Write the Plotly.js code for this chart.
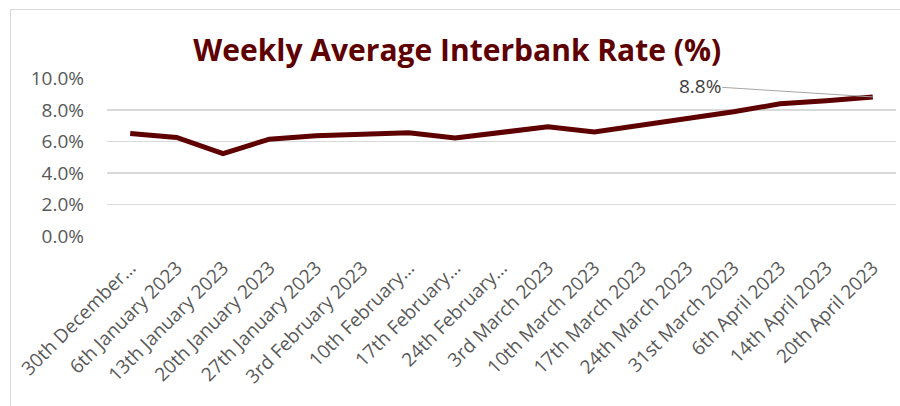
<!DOCTYPE html>
<html>
<head>
<meta charset="utf-8">
<script src="https://cdn.plot.ly/plotly-3.0.1.min.js"></script>
<style>
html,body{margin:0;padding:0;width:900px;height:406px;overflow:hidden;background:#fff;}
#chart{position:absolute;left:0;top:0;width:900px;height:406px;}
#frame{position:absolute;left:10px;top:9px;width:900px;height:500px;border:1px solid #d9d9d9;box-sizing:border-box;pointer-events:none;}
</style>
</head>
<body>
<div id="chart"></div>
<div id="frame"></div>
<script>
const categories = [
  "30th December…", "6th January 2023", "13th January 2023", "20th January 2023",
  "27th January 2023", "3rd February 2023", "10th February…", "17th February…",
  "24th February…", "3rd March 2023", "10th March 2023", "17th March 2023",
  "24th March 2023", "31st March 2023", "6th April 2023", "14th April 2023",
  "20th April 2023"
];
const rates = [6.50, 6.25, 5.23, 6.14, 6.36, 6.45, 6.54, 6.22, 6.58, 6.92, 6.60, 7.00, 7.45, 7.88, 8.38, 8.58, 8.82];
const yTicks = [0, 2, 4, 6, 8, 10];
const yTickText = ["0.0%", "2.0%", "4.0%", "6.0%", "8.0%", "10.0%"];
const lastLabel = "8.8%";

const maroon = "#5e0000";
const trace = {
  x: categories,
  y: rates,
  type: "scatter",
  mode: "lines",
  line: {color: maroon, width: 5},
  hoverinfo: "skip"
};

const layout = {
  width: 900, height: 406,
  margin: {l: 107, r: 4, t: 78, b: 170, pad: 0},
  paper_bgcolor: "rgba(0,0,0,0)",
  plot_bgcolor: "rgba(0,0,0,0)",
  showlegend: false,
  title: {
    text: "Weekly Average Interbank Rate (%)",
    font: {family: "Open Sans", size: 30, color: maroon, weight: 700},
    x: 0.508, xanchor: "center", y: 0.875, yanchor: "middle"
  },
  xaxis: {
    type: "category",
    range: [-0.5, categories.length - 0.5],
    tickangle: -45,
    tickfont: {family: "Open Sans", size: 19, color: "#595959"},
    showgrid: false, zeroline: false, showline: false,
    ticks: "", ticklabelstandoff: 16,
    automargin: false, fixedrange: true
  },
  yaxis: {
    range: [0, 10.02],
    tickmode: "array",
    tickvals: yTicks,
    ticktext: yTickText,
    tickfont: {family: "Open Sans", size: 19, color: "#595959"},
    showgrid: true, gridcolor: "#d9d9d9", gridwidth: 1.3,
    zeroline: false, showline: false,
    ticks: "", ticklabelstandoff: 22,
    automargin: false, fixedrange: true
  },
  annotations: [{
    x: categories[categories.length - 1],
    y: rates[rates.length - 1],
    xref: "x", yref: "y",
    text: lastLabel,
    font: {family: "Open Sans", size: 19, color: "#404040"},
    showarrow: true, arrowhead: 0, arrowwidth: 1, arrowcolor: "#a6a6a6",
    ax: -173, ay: -11, standoff: 0
  }]
};

Plotly.newPlot("chart", [trace], layout, {displayModeBar: false, staticPlot: true});
</script>
</body>
</html>
